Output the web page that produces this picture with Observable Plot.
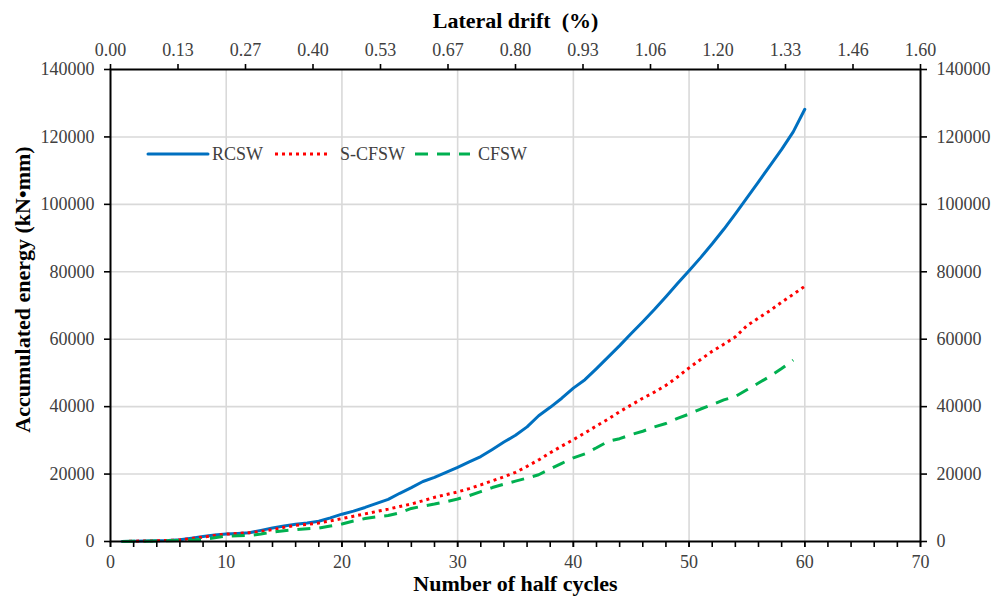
<!DOCTYPE html>
<html>
<head>
<meta charset="utf-8">
<script src="https://cdn.jsdelivr.net/npm/d3@7"></script>
<script src="https://cdn.jsdelivr.net/npm/@observablehq/plot@0.6"></script>
<style>
  html, body { margin: 0; padding: 0; background: #fff; }
  #wrap { position: relative; width: 993px; height: 596px; }
  #legend { position: absolute; left: 0; top: 0; pointer-events: none; }
</style>
</head>
<body>
<div id="wrap"><div id="chart"></div><svg id="legend" width="993" height="596"></svg></div>
<script>
// Accumulated hysteretic energy (kN·mm) after each half cycle
const halfCyclesRCSW = d3.range(1, 61);
const rcsw = [
  0, 100, 150, 200, 300, 500, 1000, 1500, 1900, 2200,
  2400, 2600, 3300, 4000, 4600, 5100, 5500, 6000, 7000, 8100,
  9000, 10100, 11300, 12500, 14300, 16000, 17800, 19000, 20500, 22000,
  23600, 25200, 27300, 29500, 31500, 34000, 37300, 39800, 42500, 45500,
  48000, 51300, 54700, 58100, 61700, 65200, 68800, 72600, 76500, 80300,
  84200, 88300, 92600, 97200, 101900, 106700, 111500, 116300, 121500, 128200
];
const halfCyclesSCFSW = d3.range(1, 61);
const scfsw = [
  0, 100, 150, 200, 300, 500, 900, 1300, 1800, 2200,
  2400, 2600, 3000, 3500, 4200, 4800, 5100, 5500, 6100, 6800,
  7500, 8200, 8900, 9600, 10400, 11100, 12100, 13100, 13900, 14700,
  15700, 16800, 18000, 19200, 20500, 22300, 24200, 26300, 28300, 30200,
  32200, 34300, 36300, 38500, 40500, 42500, 44300, 46300, 48800, 51500,
  54000, 56400, 58500, 60700, 64000, 66300, 68500, 71000, 73300, 75700
];
const halfCyclesCFSW = d3.range(1, 60);
const cfsw = [
  0, 50, 100, 150, 200, 300, 400, 600, 1100, 1600,
  1700, 1800, 2200, 2800, 3200, 3500, 3800, 4000, 4600, 5200,
  6100, 6800, 7300, 7700, 8500, 9800, 10500, 11100, 11800, 12600,
  13600, 14800, 16000, 17000, 17900, 18800, 19800, 21500, 23200, 24800,
  26000, 27800, 29700, 30500, 31700, 32700, 34000, 35000, 36500, 37800,
  39300, 40600, 42000, 43000, 45000, 47000, 49000, 51300, 53800
];

// Axis ticks
const cycleTicks = d3.range(0, 71, 10);
const cycleMinorTicks = d3.range(0, 71, 2);
const energyTicks = d3.range(0, 140001, 20000);
const driftLabels = ["0.00", "0.13", "0.27", "0.40", "0.53", "0.67", "0.80",
                     "0.93", "1.06", "1.20", "1.33", "1.46", "1.60"];
const cycleMax = 70;
// drift ticks are evenly spread over the half-cycle range
const driftPositions = driftLabels.map((_, i) => i * cycleMax / (driftLabels.length - 1));

const serif = "'Liberation Serif', 'Times New Roman', serif";

const series = [
  {name: "RCSW",   x: halfCyclesRCSW,  y: rcsw,  color: "#0070C0", dash: null,   cap: "round"},
  {name: "S-CFSW", x: halfCyclesSCFSW, y: scfsw, color: "#FF0000", dash: "3,4",  cap: "butt"},
  {name: "CFSW",   x: halfCyclesCFSW,  y: cfsw,  color: "#00B050", dash: "13,9", cap: "butt"}
];

const lineMarks = series.map(s =>
  Plot.line(s.x.map((c, i) => ({c, e: s.y[i]})), {
    x: "c", y: "e", stroke: s.color, strokeWidth: 3,
    strokeDasharray: s.dash, strokeLinecap: s.cap, curve: "linear"
  })
);

const gridStyle = {stroke: "#d9d9d9", strokeOpacity: 1, strokeWidth: 1.6};
const tickText = {fill: "#404040", stroke: "black", strokeWidth: 1.6, fontSize: 18, fontFamily: serif, tickSize: 6};
const titleText = {fontSize: 22, fontWeight: "bold", fill: "black", fontFamily: serif, textAnchor: "middle", lineAnchor: "middle"};

const chart = Plot.plot({
  width: 993,
  height: 596,
  marginLeft: 110,
  marginRight: 73,
  marginTop: 69,
  marginBottom: 55,
  x: {domain: [0, cycleMax]},
  y: {domain: [0, 140000]},
  style: {fontFamily: serif, fontSize: "18px", background: "white", color: "#404040"},
  marks: [
    Plot.gridX(cycleTicks.filter(d => d > 0 && d < cycleMax), gridStyle),
    Plot.gridY(energyTicks.filter(d => d > 0 && d < 140000), gridStyle),
    ...lineMarks,
    Plot.frame({stroke: "black", strokeWidth: 2}),
    Plot.axisX({ticks: cycleTicks, tickFormat: d => String(d), label: null, ...tickText, tickPadding: 8}),
    Plot.axisX({ticks: cycleMinorTicks, tickFormat: () => "", label: null, stroke: "black", strokeWidth: 1.6, tickSize: 6}),
    Plot.axisX({anchor: "top", ticks: driftPositions,
                tickFormat: d => driftLabels[driftPositions.indexOf(d)], label: null, ...tickText, tickPadding: 8}),
    Plot.axisY({anchor: "left", ticks: energyTicks, tickFormat: d3.format("d"), label: null, ...tickText, tickPadding: 10}),
    Plot.axisY({anchor: "right", ticks: energyTicks, tickFormat: d3.format("d"), label: null, ...tickText, tickPadding: 10}),
    Plot.text(["Number of half cycles"], {frameAnchor: "bottom", dy: 42, ...titleText}),
    Plot.text(["Lateral drift  (%)"], {frameAnchor: "top", dy: -49, ...titleText}),
    Plot.text(["Accumulated energy (kN•mm)"], {frameAnchor: "left", dx: -88, dy: -16, rotate: -90, ...titleText})
  ]
});
document.getElementById("chart").appendChild(chart);

// Legend drawn inside the plotting area, one row
const legend = d3.select("#legend");
const legendItems = [
  {s: series[0], x1: 148, x2: 208, tx: 212},
  {s: series[1], x1: 275, x2: 330, tx: 340},
  {s: series[2], x1: 415, x2: 470, tx: 478}
];
const ly = 154;
legendItems.forEach(({s, x1, x2, tx}) => {
  legend.append("line")
    .attr("x1", x1).attr("x2", x2).attr("y1", ly).attr("y2", ly)
    .attr("stroke", s.color).attr("stroke-width", 3)
    .attr("stroke-dasharray", s.dash).attr("stroke-linecap", s.cap);
  legend.append("text")
    .attr("x", tx).attr("y", ly).attr("dy", "0.35em")
    .attr("font-family", serif)
    .attr("font-size", 18).attr("fill", "#404040")
    .text(s.name);
});
</script>
</body>
</html>
